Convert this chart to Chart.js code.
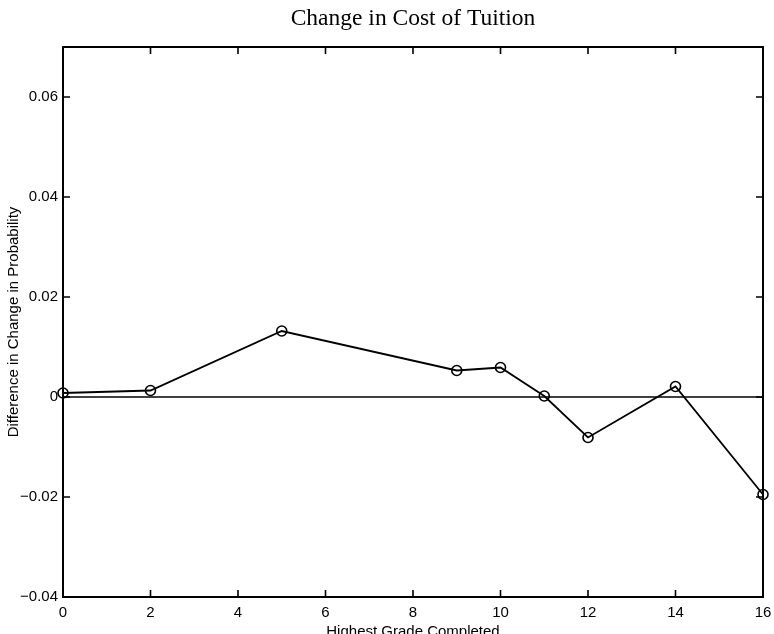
<!DOCTYPE html>
<html>
<head>
<meta charset="utf-8">
<title>Change in Cost of Tuition</title>
<script src="https://cdn.jsdelivr.net/npm/chart.js@4/dist/chart.umd.min.js"></script>
<style>
  html, body { margin: 0; padding: 0; background: #fff; }
  #wrap { width: 774px; height: 634px; }
</style>
</head>
<body>
<div id="wrap"><canvas id="c" width="774" height="634"></canvas></div>
<script>
// Highest grade completed (x) and difference in change in probability (y)
const grades = [0, 2, 5, 9, 10, 11, 12, 14, 16];
const diffChange = [0.0008, 0.0013, 0.0132, 0.0053, 0.0059, 0.0002, -0.0081, 0.0021, -0.0195];

// Axis ticks
const xTickValues = [0, 2, 4, 6, 8, 10, 12, 14, 16];
const xTickLabels = ['0', '2', '4', '6', '8', '10', '12', '14', '16'];
const yTickValues = [-0.04, -0.02, 0, 0.02, 0.04, 0.06];
const yTickLabels = ['\u22120.04', '\u22120.02', '0', '0.02', '0.04', '0.06'];

const X_MIN = 0, X_MAX = 16, Y_MIN = -0.04, Y_MAX = 0.07;
const TICK_LEN = 7;

const points = grades.map((g, i) => ({ x: g, y: diffChange[i] }));
const zeroLine = [{ x: X_MIN, y: 0 }, { x: X_MAX, y: 0 }];

// Boxed frame with inward tick marks on all four sides
const frameTicks = {
  id: 'frameTicks',
  afterDatasetsDraw(chart) {
    const { ctx, chartArea: a, scales: { x, y } } = chart;
    ctx.save();
    ctx.strokeStyle = '#000';
    ctx.lineWidth = 2;
    ctx.strokeRect(a.left, a.top, a.right - a.left, a.bottom - a.top);
    ctx.lineWidth = 1.6;
    ctx.beginPath();
    xTickValues.forEach(v => {
      const px = x.getPixelForValue(v);
      ctx.moveTo(px, a.bottom); ctx.lineTo(px, a.bottom - TICK_LEN);
      ctx.moveTo(px, a.top); ctx.lineTo(px, a.top + TICK_LEN);
    });
    yTickValues.forEach(v => {
      const py = y.getPixelForValue(v);
      ctx.moveTo(a.left, py); ctx.lineTo(a.left + TICK_LEN, py);
      ctx.moveTo(a.right, py); ctx.lineTo(a.right - TICK_LEN, py);
    });
    ctx.stroke();
    ctx.restore();
  }
};

const tickFont = { family: '"Liberation Sans", Arial, Helvetica, sans-serif', size: 15 };
const labelFont = { family: '"Liberation Sans", Arial, Helvetica, sans-serif', size: 15 };

new Chart(document.getElementById('c'), {
  type: 'line',
  data: {
    datasets: [
      {
        data: points,
        borderColor: '#000',
        borderWidth: 1.8,
        pointStyle: 'circle',
        pointRadius: 5,
        pointBorderWidth: 1.6,
        pointBorderColor: '#000',
        pointBackgroundColor: 'rgba(0,0,0,0)',
        fill: false,
        tension: 0,
        clip: false
      },
      {
        data: zeroLine,
        borderColor: '#000',
        borderWidth: 1.7,
        pointRadius: 0,
        fill: false,
        tension: 0
      }
    ]
  },
  options: {
    responsive: false,
    animation: false,
    devicePixelRatio: 1,
    layout: { padding: { left: 0, right: 11, top: 0, bottom: 0 } },
    plugins: {
      legend: { display: false },
      tooltip: { enabled: false },
      title: {
        display: true,
        text: 'Change in Cost of Tuition',
        fullSize: false,
        color: '#000',
        font: { family: '"Liberation Serif", "Times New Roman", serif', size: 23.5, weight: 'normal' },
        padding: { top: 5, bottom: 13.8 }
      }
    },
    scales: {
      x: {
        type: 'linear',
        min: X_MIN,
        max: X_MAX,
        afterBuildTicks(scale) { scale.ticks = xTickValues.map(v => ({ value: v })); },
        afterFit(scale) {
          scale.height = 37;
          scale.paddingLeft = 0;
          scale.paddingRight = 0;
        },
        grid: { display: false, drawTicks: false },
        border: { display: false },
        ticks: {
          color: '#000',
          font: tickFont,
          padding: 7,
          maxRotation: 0,
          autoSkip: false,
          callback: (v) => xTickLabels[xTickValues.indexOf(v)]
        },
        title: {
          display: true,
          text: 'Highest Grade Completed',
          color: '#000',
          font: labelFont,
          padding: { top: 0, bottom: -7 }
        }
      },
      y: {
        type: 'linear',
        min: Y_MIN,
        max: Y_MAX,
        afterBuildTicks(scale) { scale.ticks = yTickValues.map(v => ({ value: v })); },
        afterFit(scale) {
          scale.width = 63;
          scale.paddingTop = 0;
          scale.paddingBottom = 0;
        },
        grid: { display: false, drawTicks: false },
        border: { display: false },
        ticks: {
          color: '#000',
          font: tickFont,
          padding: 5,
          autoSkip: false,
          callback: (v) => {
            const i = yTickValues.findIndex(t => Math.abs(t - v) < 1e-9);
            return i >= 0 ? yTickLabels[i] : '';
          }
        },
        title: {
          display: true,
          text: 'Difference in Change in Probability',
          color: '#000',
          font: labelFont,
          padding: { top: 5, bottom: 0 }
        }
      }
    }
  },
  plugins: [frameTicks]
});
</script>
</body>
</html>
